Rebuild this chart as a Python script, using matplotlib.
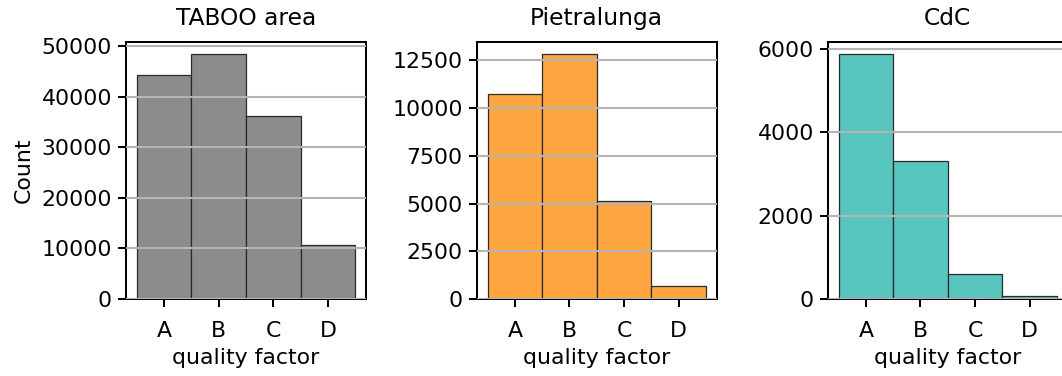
import numpy as np
import matplotlib
matplotlib.use('Agg')
import matplotlib.pyplot as plt

categories = ['A', 'B', 'C', 'D']
titles = ['TABOO area', 'Pietralunga', 'CdC']
taboo_counts = [44300, 48550, 36200, 10650]
pietralunga_counts = [10720, 12850, 5160, 670]
cdc_counts = [5880, 3305, 600, 80]
colors = ['#8c8c8c', '#ffa640', '#58c5bf']
yticks_list = [[0, 10000, 20000, 30000, 40000, 50000],
               [0, 2500, 5000, 7500, 10000, 12500],
               [0, 2000, 4000, 6000]]

plt.rcParams['font.family'] = 'DejaVu Sans'

fig = plt.figure(figsize=(10.62, 3.76), dpi=100)

lefts = [126 / 1062, 476.7 / 1062, 827.7 / 1062]
bottom = 77 / 376
width = 240 / 1062
height = 257.5 / 376

all_counts = [taboo_counts, pietralunga_counts, cdc_counts]
x = np.arange(len(categories))

for i in range(3):
    ax = fig.add_axes([lefts[i], bottom, width, height])
    ax.bar(x, all_counts[i], width=1.0, color=colors[i],
           edgecolor='#2a2a2a', linewidth=0.9)
    ax.set_xticks(x)
    ax.set_xticklabels(categories)
    ax.set_yticks(yticks_list[i])
    ax.set_title(titles[i], fontsize=16.8, pad=12)
    ax.set_xlabel('quality factor', fontsize=15.8, labelpad=5)
    if i == 0:
        ax.set_ylabel('Count', fontsize=15.8, labelpad=6)
    ax.yaxis.grid(True, color='#b4b4b4', linewidth=1.5)
    ax.set_axisbelow(False)
    for s in ax.spines.values():
        s.set_linewidth(1.45)
    ax.tick_params(axis='both', length=6, width=1.45, labelsize=15.8)
    ax.tick_params(axis='x', pad=10)
    ax.tick_params(axis='y', pad=4)

fig.savefig('out.png', dpi=100)
